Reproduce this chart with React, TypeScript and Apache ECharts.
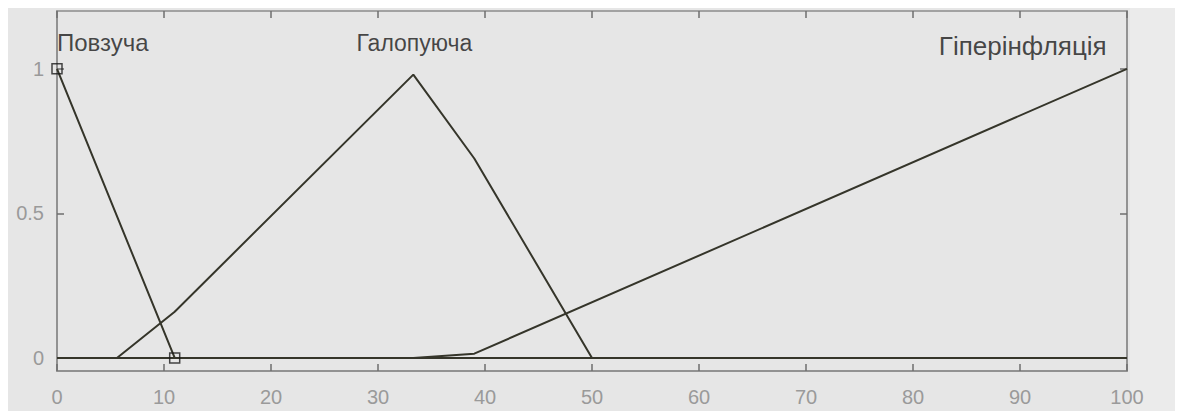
import React, { useEffect, useRef } from "react";
import * as echarts from "echarts";

const xTickValues = [0, 10, 20, 30, 40, 50, 60, 70, 80, 90, 100];
const yTickValues = [0, 0.5, 1];
const yMin = -0.045;
const yMax = 1.2;

const povzuchaX = [0, 11, 100];
const povzuchaY = [1, 0, 0];

const galopX = [0, 5.6, 11, 33.3, 39, 50, 100];
const galopY = [0, 0, 0.16, 0.98, 0.69, 0, 0];

const hyperX = [0, 33.3, 39, 100];
const hyperY = [0, 0, 0.015, 1];

const markerX = [0, 11];
const markerY = [1, 0];

const labelNames = ["Повзуча", "Галопуюча", "Гіперінфляція"];
const labelX = [0, 33.4, 98.1];
const labelY = [1.09, 1.09, 1.08];
const labelAlign = ["left", "center", "right"];
const labelSize = [24, 23, 26];

const zip = (xs: number[], ys: number[]) => xs.map((x, i) => [x, ys[i]]);

const LINE = "#35352a";
const AXIS = "#8c8c8c";
const TICKC = "#6e6e6e";
const TICKTXT = "#9a9a9a";
const FONT = "Liberation Sans";

export default function App() {
  const ref = useRef<HTMLDivElement>(null);
  useEffect(() => {
    const chart = echarts.init(ref.current!, null, { renderer: "svg" });
    const lineSeries = (name: string, data: number[][]) => ({
      name,
      type: "line",
      data,
      symbol: "none",
      lineStyle: { color: LINE, width: 2 },
      z: 3,
    });
    const axisLine = () => ({ show: true, onZero: false, lineStyle: { color: AXIS, width: 1.5 } });
    const yTick = () => ({ show: true, inside: true, length: 7, customValues: yTickValues, lineStyle: { color: TICKC, width: 1.5 } });
    const tickSeries = (yVal: number, dir: number) => ({
      type: "custom",
      clip: false,
      silent: true,
      z: 6,
      data: xTickValues.map((x) => [x, yVal]),
      encode: { x: 0, y: 1 },
      renderItem: (params: any, api: any) => {
        const p = api.coord([api.value(0), api.value(1)]);
        return {
          type: "line",
          shape: { x1: p[0], y1: p[1], x2: p[0], y2: p[1] + dir * 7 },
          style: { stroke: TICKC, lineWidth: 1.5 },
        };
      },
    });
    chart.setOption({
      animation: false,
      backgroundColor: "#e6e6e6",
      graphic: [
        {
          type: "rect",
          right: 0,
          top: 0,
          shape: { width: 53, height: 403 },
          style: { fill: "#ebebeb" },
          z: -1,
        },
      ],
      grid: {
        left: 49,
        top: 3,
        right: 56,
        bottom: 40,
        show: true,
        borderColor: AXIS,
        borderWidth: 1.5,
        backgroundColor: "transparent",
      },
      xAxis: [
        {
          type: "value",
          min: 0,
          max: 100,
          interval: 10,
          position: "bottom",
          axisLine: axisLine(),
          axisTick: { show: false },
          axisLabel: { color: TICKTXT, fontSize: 20, fontFamily: FONT, margin: 16 },
          splitLine: { show: false },
        },
      ],
      yAxis: [
        {
          type: "value",
          min: yMin,
          max: yMax,
          position: "left",
          axisLine: axisLine(),
          axisTick: yTick(),
          axisLabel: { color: TICKTXT, fontSize: 20, fontFamily: FONT, margin: 13, customValues: yTickValues },
          splitLine: { show: false },
        },
        {
          type: "value",
          min: yMin,
          max: yMax,
          position: "right",
          axisLine: axisLine(),
          axisTick: yTick(),
          axisLabel: { show: false },
          splitLine: { show: false },
        },
      ],
      series: [
        lineSeries("Повзуча", zip(povzuchaX, povzuchaY)),
        lineSeries("Галопуюча", zip(galopX, galopY)),
        lineSeries("Гіперінфляція", zip(hyperX, hyperY)),
        tickSeries(yMin, -1),
        tickSeries(yMax, 1),
        {
          type: "scatter",
          data: zip(markerX, markerY),
          symbol: "rect",
          symbolSize: 10,
          itemStyle: { color: "rgba(0,0,0,0)", borderColor: "#1a1a1a", borderWidth: 1.5 },
          z: 4,
        },
        {
          type: "scatter",
          symbolSize: 0,
          data: labelNames.map((n, i) => ({
            name: n,
            value: [labelX[i], labelY[i]],
            label: {
              show: true,
              position: "inside",
              align: labelAlign[i],
              verticalAlign: "middle",
              formatter: n,
              color: "#1a1a1a",
              fontSize: labelSize[i],
              fontFamily: FONT,
            },
          })),
          z: 5,
        },
      ],
    });
    return () => chart.dispose();
  }, []);
  return <div ref={ref} style={{ width: 1175, height: 403 }} />;
}
